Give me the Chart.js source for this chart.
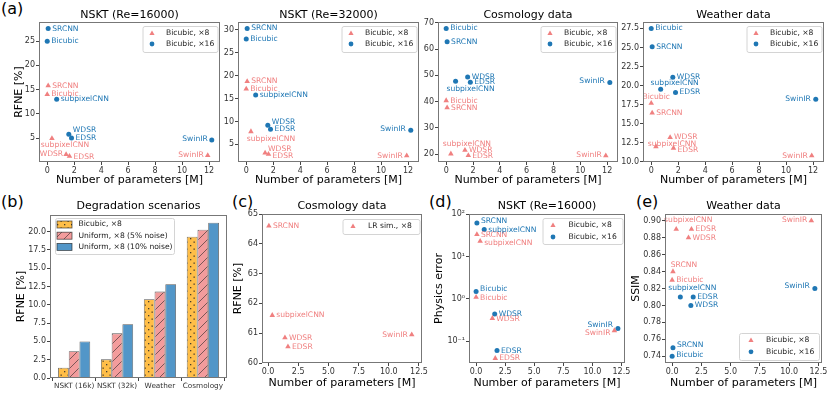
<!DOCTYPE html>
<html>
<head>
<meta charset="utf-8">
<script src="https://cdn.jsdelivr.net/npm/chart.js@4"></script>
<style>
  body { margin: 0; width: 830px; height: 394px; overflow: hidden; position: relative; background: #fff; font-family: 'DejaVu Sans', sans-serif; }
  canvas { position: absolute; }
  .tag { position: absolute; font-size: 16px; line-height: 16px; color: #000; }
</style>
</head>
<body>
<div class="tag" style="left:1px;top:1px">(a)</div>
<div class="tag" style="left:1px;top:194px">(b)</div>
<div class="tag" style="left:232px;top:194px">(c)</div>
<div class="tag" style="left:429px;top:194px">(d)</div>
<div class="tag" style="left:636px;top:194px">(e)</div>
<canvas id="p1"></canvas>
<canvas id="p2"></canvas>
<canvas id="p3"></canvas>
<canvas id="p4"></canvas>
<canvas id="pb"></canvas>
<canvas id="pc"></canvas>
<canvas id="pd"></canvas>
<canvas id="pe"></canvas>
<script>
// ---- data ----
const models = ['Bicubic', 'SRCNN', 'subpixelCNN', 'WDSR', 'EDSR', 'SwinIR'];
const params8 = [0, 0.07, 0.35, 1.4, 1.65, 11.9];    // number of parameters [M], x8 models
const params16 = [0, 0.07, 0.7, 1.6, 1.8, 12.2];    // x16 models

const nskt16_x8 = [14.0, 15.8, 4.9, 1.6, 1.25, 1.4];
const nskt16_x16 = [25.0, 27.6, 13.0, 5.8, 5.0, 4.6];
const nskt32_x8 = [17.1, 18.75, 7.8, 3.15, 2.85, 2.55];
const nskt32_x16 = [28.0, 30.3, 15.8, 9.2, 8.3, 8.1];
const cosmo_x8 = [40.4, 37.7, 20.1, 21.5, 19.5, 19.4];
const cosmo_x16 = [67.9, 62.8, 47.7, 49.4, 47.4, 47.3];
const weather_x8 = [17.7, 16.4, 12.0, 13.2, 11.8, 10.8];
const weather_x16 = [27.5, 25.1, 19.5, 21.1, 19.1, 18.2];

const lrsim_x8 = [64.6, 61.6, 60.85, 60.55, 60.95];   // SRCNN..SwinIR (no Bicubic)
const physics_x8 = [1.1, 33, 23, 0.35, 0.040, 0.18];
const physics_x16 = [1.5, 61, 43, 0.44, 0.061, 0.20];
const ssim_x8 = [0.83, 0.84, 0.89, 0.88, 0.89, 0.90];
const ssim_x16 = [0.74, 0.75, 0.81, 0.80, 0.81, 0.82];

const groups = ['NSKT (16k)', 'NSKT (32k)', 'Weather', 'Cosmology'];
const bicubic8 = [1.4, 2.55, 10.75, 19.3];
const uniform5 = [3.65, 6.1, 11.8, 20.25];
const uniform10 = [5.0, 7.35, 12.8, 21.2];

// ---- styling ----
const FONT = "'DejaVu Sans', sans-serif";
Chart.defaults.font.family = FONT;
Chart.defaults.color = '#333';
const RED = '#f08080', BLUE = '#1f77b4';

// label placement next to each point: [align, dx, dy]
const R = ['left', 4, 0], L = ['right', -4, 0];

// draws frame, titles, legend
const decor = {
  id: 'decor',
  afterDraw(chart, args, o) {
    const ctx = chart.ctx, a = chart.chartArea;
    ctx.save();
    ctx.strokeStyle = '#777';
    ctx.lineWidth = 1;
    ctx.strokeRect(a.left + 0.5, a.top + 0.5, a.right - a.left - 1, a.bottom - a.top - 1);
    ctx.fillStyle = '#000';
    ctx.textBaseline = 'middle';
    ctx.textAlign = 'center';
    const cx = (a.left + a.right) / 2;
    if (o.title) { ctx.font = `11px ${FONT}`; ctx.fillText(o.title, cx, a.top - o.titleGap); }
    if (o.xTitle) { ctx.font = `11px ${FONT}`; ctx.fillText(o.xTitle, cx, a.bottom + o.xGap); }
    if (o.yTitle) {
      ctx.save();
      ctx.translate(a.left - o.yGap, (a.top + a.bottom) / 2);
      ctx.rotate(-Math.PI / 2);
      ctx.font = `11px ${FONT}`;
      ctx.fillText(o.yTitle, 0, 0);
      ctx.restore();
    }
    const lg = o.legend;
    if (lg) {
      const x0 = lg.corner[1] === 'r' ? a.right - lg.gx - lg.w : a.left + lg.gx;
      const y0 = lg.corner[0] === 'b' ? a.bottom - lg.gy - lg.h : a.top + lg.gy;
      ctx.beginPath();
      ctx.roundRect(x0 + 0.5, y0 + 0.5, lg.w, lg.h, 2);
      ctx.fillStyle = 'rgba(255,255,255,0.85)';
      ctx.fill();
      ctx.strokeStyle = '#d4d4d4';
      ctx.stroke();
      chart.data.datasets.forEach((ds, i) => {
        const y = y0 + lg.y0 + i * lg.dy;
        const mx = x0 + lg.mx;
        ctx.fillStyle = ds.backgroundColor;
        if (ds.type === 'bar' || chart.config.type === 'bar') {
          ctx.fillRect(mx - 7.5, y - 3.5, 15, 7);
          ctx.strokeStyle = ds.borderColor;
          ctx.lineWidth = 0.8;
          ctx.strokeRect(mx - 7.5, y - 3.5, 15, 7);
        } else if (ds.pointStyle === 'triangle') {
          ctx.beginPath();
          ctx.moveTo(mx, y - 3); ctx.lineTo(mx + 2.6, y + 1.5); ctx.lineTo(mx - 2.6, y + 1.5);
          ctx.closePath(); ctx.fill();
        } else {
          ctx.beginPath(); ctx.arc(mx, y, 2.4, 0, Math.PI * 2); ctx.fill();
        }
        ctx.fillStyle = '#222';
        ctx.textAlign = 'left';
        ctx.font = `7.6px ${FONT}`;
        ctx.fillText(ds.label, x0 + lg.tx, y);
      });
    }
    ctx.restore();
  }
};

// model names written next to the points
const pointLabels = {
  id: 'pointLabels',
  afterDatasetsDraw(chart) {
    const ctx = chart.ctx;
    chart.data.datasets.forEach((ds, i) => {
      if (!ds.names) return;
      const meta = chart.getDatasetMeta(i);
      ctx.save();
      ctx.font = `7.6px ${FONT}`;
      ctx.fillStyle = ds.backgroundColor;
      ctx.textBaseline = 'middle';
      meta.data.forEach((pt, j) => {
        const p = ds.labelPos[j];
        ctx.textAlign = p[0];
        ctx.fillText(ds.names[j], pt.x + p[1], pt.y + p[2]);
      });
      ctx.restore();
    });
  }
};

function place(cv, p) {
  cv.width = p.L + p.w + p.R;
  cv.height = p.T + p.h + p.B;
  cv.style.left = (p.x - p.L) + 'px';
  cv.style.top = (p.y - p.T) + 'px';
}

function axis(position, r, step, fmt, fit, extra) {
  return Object.assign({
    type: 'linear', position, min: r[0], max: r[1],
    grid: { display: true, drawOnChartArea: false, drawTicks: true, tickLength: 3, tickColor: '#444' },
    border: { display: false },
    ticks: { stepSize: step, includeBounds: false, font: { size: 8 }, color: '#333', padding: 1,
             maxRotation: 0, autoSkip: false, callback: fmt },
    afterFit: fit
  }, extra || {});
}

function series(label, xs, ys, names, pos, tri) {
  return {
    label, names, labelPos: pos,
    data: xs.map((x, i) => ({ x, y: ys[i] })),
    pointStyle: tri ? 'triangle' : 'circle',
    backgroundColor: tri ? RED : BLUE,
    borderWidth: 0,
    pointRadius: tri ? 3.2 : 2.5
  };
}

const int = v => String(Math.round(v));
const f1 = v => v.toFixed(1);
const f2 = v => v.toFixed(2);

function scatterPanel(id, p, o) {
  const cv = document.getElementById(id);
  place(cv, p);
  return new Chart(cv, {
    type: 'scatter',
    data: { datasets: o.datasets },
    options: {
      responsive: false, animation: false, devicePixelRatio: 1,
      layout: { padding: { left: 0, top: p.T, right: p.R, bottom: 0 } },
      scales: {
        x: axis('bottom', o.xr, o.xStep, o.xFmt, s => { s.height = p.B; }),
        y: axis('left', o.yr, o.yStep, o.yFmt, s => { s.width = p.L; }, o.yExtra)
      },
      plugins: {
        legend: { display: false }, tooltip: { enabled: false },
        decor: o.decor
      }
    },
    plugins: [decor, pointLabels]
  });
}

const XR = [-0.61, 12.81];
const topLegend = { corner: 'tr', gx: 2.5, gy: 4, w: 75, h: 26, mx: 9.5, tx: 23.5, y0: 7.5, dy: 10.5 };
const topDecor = (title, yTitle) => ({ title, titleGap: 7, xTitle: 'Number of parameters [M]', xGap: 18,
                                      yTitle, yGap: 20, legend: topLegend });

// (a) NSKT Re=16000
scatterPanel('p1', { x: 39, y: 22, w: 181, h: 140, L: 39, T: 22, R: 8, B: 32 }, {
  xr: XR, xStep: 2, xFmt: int, yr: [0.05, 28.95], yStep: 5, yFmt: int,
  decor: topDecor('NSKT (Re=16000)', 'RFNE [%]'),
  datasets: [
    series('Bicubic, ×8', params8, nskt16_x8, models, [R, R, ['center', 13, 7], ['right', -3, 0], ['left', 4, 1], L], true),
    series('Bicubic, ×16', params16, nskt16_x16, models, [R, R, R, ['left', 4, -4], R, ['right', -4, -1]], false)
  ]
});

// NSKT Re=32000
scatterPanel('p2', { x: 238, y: 22, w: 181, h: 140, L: 20, T: 22, R: 6, B: 32 }, {
  xr: XR, xStep: 2, xFmt: int, yr: [1.16, 31.7], yStep: 5, yFmt: int,
  decor: topDecor('NSKT (Re=32000)'),
  datasets: [
    series('Bicubic, ×8', params8, nskt32_x8, models, [R, R, ['center', 20, 7], ['left', 3, -4], ['left', 4, 2], L], true),
    series('Bicubic, ×16', params16, nskt32_x16, models, [R, R, R, ['left', 4, -3], R, ['right', -5, -1]], false)
  ]
});

// Cosmology data
scatterPanel('p3', { x: 438, y: 22, w: 180, h: 140, L: 20, T: 22, R: 5, B: 32 }, {
  xr: XR, xStep: 2, xFmt: int, yr: [16.97, 70.33], yStep: 10, yFmt: int,
  decor: topDecor('Cosmology data'),
  datasets: [
    series('Bicubic, ×8', params8, cosmo_x8, models, [R, R, ['center', 16, -10], R, ['left', 4, 1], ['right', -4, -1]], true),
    series('Bicubic, ×16', params16, cosmo_x16, models, [R, R, ['center', 15, 8], R, R, ['right', -5, -1]], false)
  ]
});

// Weather data
scatterPanel('p4', { x: 643, y: 22, w: 181, h: 140, L: 25, T: 22, R: 6, B: 32 }, {
  xr: XR, xStep: 2, xFmt: int, yr: [9.97, 28.34], yStep: 2.5, yFmt: f1,
  decor: topDecor('Weather data'),
  datasets: [
    series('Bicubic, ×8', params8, weather_x8, models, [['center', 5, -6], R, ['center', 16, -3], R, ['left', 4, 2], L], true),
    series('Bicubic, ×16', params16, weather_x16, models, [R, R, ['center', 14, -6], R, R, ['right', -5, 0]], false)
  ]
});

// (c) Cosmology data, LR simulation
scatterPanel('pc', { x: 262, y: 214, w: 160, h: 149, L: 34, T: 19, R: 8, B: 30 }, {
  xr: [-0.5, 12.75], xStep: 2.5, xFmt: f1, yr: [60, 65], yStep: 1, yFmt: int,
  decor: { title: 'Cosmology data', titleGap: 7.5, xTitle: 'Number of parameters [M]', xGap: 20, yTitle: 'RFNE [%]', yGap: 24,
           legend: { corner: 'tr', gx: 2.5, gy: 5, w: 77, h: 15, mx: 10.5, tx: 25.5, y0: 7.5, dy: 10.5 } },
  datasets: [
    series('LR sim., ×8', params8.slice(1), lrsim_x8, models.slice(1), [R, R, R, R, L], true)
  ]
});

// (d) NSKT physics error (log axis)
const supers = { 100: '10²', 10: '10¹', 1: '10⁰', 0.1: '10⁻¹' };
scatterPanel('pd', { x: 469, y: 214, w: 156, h: 149, L: 40, T: 19, R: 8, B: 30 }, {
  xr: XR, xStep: 2.5, xFmt: f1, yr: [0.031, 100], yStep: undefined, yFmt: v => supers[v] || '',
  yExtra: { type: 'logarithmic', afterBuildTicks: s => { s.ticks = [0.1, 1, 10, 100].map(v => ({ value: v })); } },
  decor: { title: 'NSKT (Re=16000)', titleGap: 7.5, xTitle: 'Number of parameters [M]', xGap: 20, yTitle: 'Physics error', yGap: 30,
           legend: { corner: 'tr', gx: 2.5, gy: 4, w: 80, h: 26, mx: 10.5, tx: 26, y0: 7.5, dy: 11.5 } },
  datasets: [
    series('Bicubic, ×8', params8, physics_x8, models, [['left', 4, 1], ['left', 4, 1], ['left', 4, 2], ['left', 4, 1], R, ['right', -4, 2]], true),
    series('Bicubic, ×16', params16, physics_x16, models, [['left', 4, -2], ['left', 4, -2], R, R, R, ['right', -5, -4]], false)
  ]
});

// (e) Weather SSIM
scatterPanel('pe', { x: 665, y: 214, w: 157, h: 149, L: 36, T: 19, R: 8, B: 30 }, {
  xr: XR, xStep: 2.5, xFmt: f1, yr: [0.732, 0.908], yStep: 0.02, yFmt: f2,
  decor: { title: 'Weather data', titleGap: 7.5, xTitle: 'Number of parameters [M]', xGap: 20, yTitle: 'SSIM', yGap: 29,
           legend: { corner: 'br', gx: 3, gy: 3, w: 80, h: 27, mx: 12, tx: 27, y0: 7.5, dy: 11.3 } },
  datasets: [
    series('Bicubic, ×8', params8, ssim_x8, models, [R, ['center', 11, -7], ['center', 12, -9], R, R, ['right', -4, -1]], true),
    series('Bicubic, ×16', params16, ssim_x16, models, [['left', 4, -1], ['left', 4, -3], ['center', 12, -9], R, R, ['right', -5, -2]], false)
  ]
});

// (b) degradation scenarios bar chart with hatches
function hatch(color, kind) {
  const c = document.createElement('canvas');
  const s = kind === 'dots' ? 7 : 9;
  c.width = c.height = s;
  const g = c.getContext('2d');
  g.fillStyle = color;
  g.fillRect(0, 0, s, s);
  g.fillStyle = g.strokeStyle = 'rgba(40,40,40,0.85)';
  if (kind === 'dots') {
    g.fillRect(1, 1, 1.3, 1.3);
    g.fillRect(4.5, 4.5, 1.3, 1.3);
  } else {
    g.lineWidth = 0.7;
    g.beginPath();
    g.moveTo(0, s); g.lineTo(s, 0);
    g.moveTo(-1, 1); g.lineTo(1, -1);
    g.moveTo(s - 1, s + 1); g.lineTo(s + 1, s - 1);
    g.stroke();
  }
  return g.createPattern(c, 'repeat');
}

(function () {
  const cv = document.getElementById('pb');
  const p = { x: 50, y: 215, w: 177, h: 163, L: 50, T: 20, R: 4, B: 16 };
  place(cv, p);
  const edge = 'rgba(30,30,30,0.75)';
  const bars = (label, vals, fill) => ({
    label, data: vals.map((v, i) => ({ x: i, y: v })),
    backgroundColor: fill, borderColor: edge, borderWidth: 0.8,
    categoryPercentage: 0.75, barPercentage: 1
  });
  new Chart(cv, {
    type: 'bar',
    data: {
      datasets: [
        bars('Bicubic, ×8', bicubic8, hatch('rgb(255,190,72)', 'dots')),
        bars('Uniform, ×8 (5% noise)', uniform5, hatch('rgb(243,156,156)', 'lines')),
        bars('Uniform, ×8 (10% noise)', uniform10, 'rgb(82,150,200)')
      ]
    },
    options: {
      responsive: false, animation: false, devicePixelRatio: 1,
      layout: { padding: { left: 0, top: p.T, right: p.R, bottom: 0 } },
      scales: {
        x: axis('bottom', [-0.5625, 3.5625], 1, v => groups[v] || '', s => { s.height = p.B; },
                { offset: false, ticks: { stepSize: 1, includeBounds: false, font: { size: 7.3 }, color: '#333', padding: 1,
                                          maxRotation: 0, autoSkip: false, callback: v => groups[v] || '' } }),
        y: axis('left', [0, 22.26], 2.5, f1, s => { s.width = p.L; })
      },
      plugins: {
        legend: { display: false }, tooltip: { enabled: false },
        decor: { title: 'Degradation scenarios', titleGap: 8.5, yTitle: 'RFNE [%]', yGap: 29,
                 legend: { corner: 'tl', gx: 5, gy: 3, w: 119, h: 36, mx: 9.5, tx: 23.5, y0: 6.5, dy: 11.2 } }
      }
    },
    plugins: [decor]
  });
})();
</script>
</body>
</html>
